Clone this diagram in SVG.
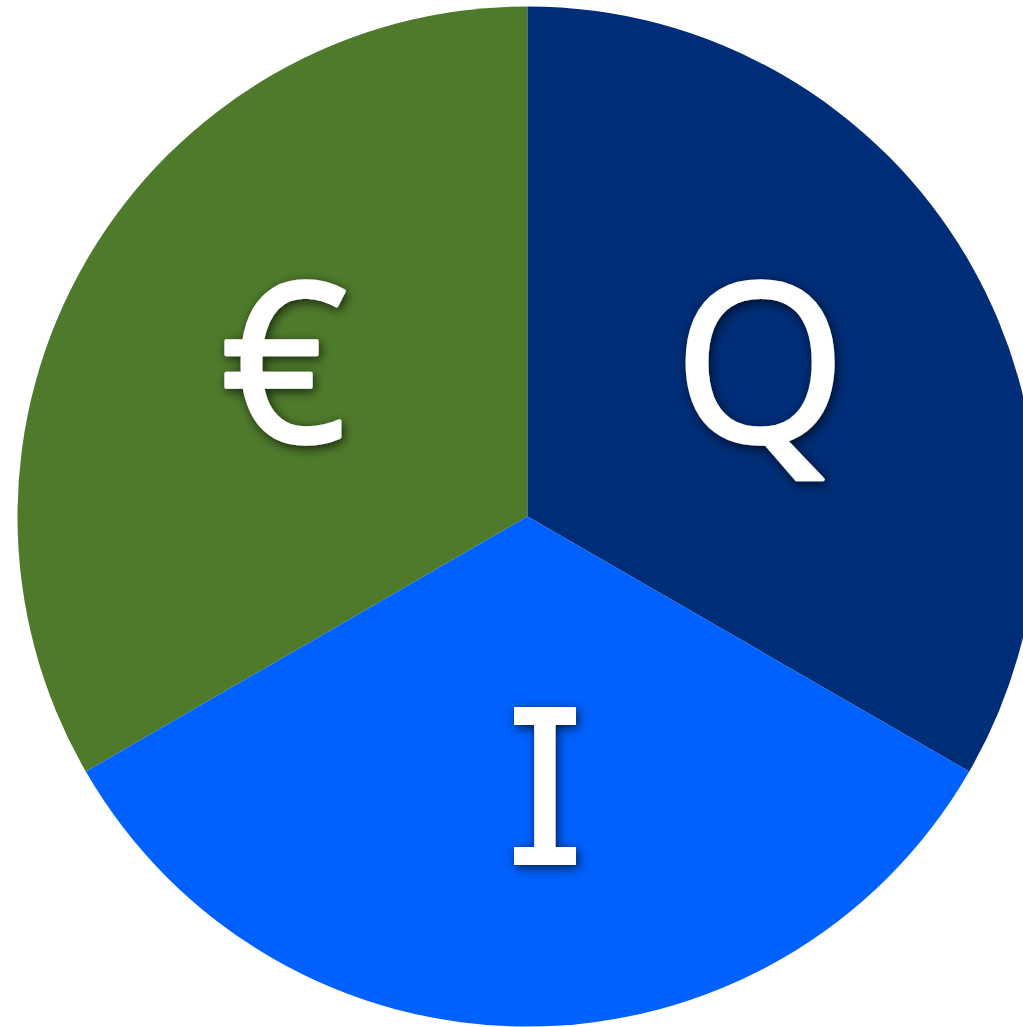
<svg xmlns="http://www.w3.org/2000/svg" width="1023" height="1027" viewBox="0 0 1023 1027">
<defs>
<filter id="sh" x="-30%" y="-30%" width="160%" height="160%">
<feDropShadow dx="2" dy="3" stdDeviation="5.5" flood-color="#000" flood-opacity="0.7"/>
</filter>
<clipPath id="iclip"><rect x="514" y="690" width="62" height="190"/></clipPath>
<style>
.lbl{fill:#fff;text-anchor:middle}
.sh{filter:url(#sh)}
.sans{font-family:"Open Sans","Noto Sans",sans-serif;stroke:#fff;stroke-width:3.5;stroke-linejoin:round}
.mono{font-family:"DejaVu Sans Mono",monospace}
</style>
</defs>
<rect width="1023" height="1027" fill="#fff"/>
<g id="seg-euro">
<path d="M527.5,516.5 L527.5,6.5 A510,510 0 0 0 85.8,771.5 Z" fill="#4f7a2b"/>
<text class="lbl sh sans" x="284" y="442" font-size="222">€</text>
</g>
<g id="seg-q">
<path d="M527.5,516.5 L527.5,6.5 A510,510 0 0 1 969.2,771.5 Z" fill="#002d77"/>
<text class="lbl sh sans" x="760" y="442" font-size="222">Q</text>
</g>
<g id="seg-i">
<path d="M527.5,516.5 L969.2,771.5 A510,510 0 0 1 85.8,771.5 Z" fill="#0061fe"/>
<g class="sh"><text class="lbl mono" x="545" y="865" font-size="215" clip-path="url(#iclip)">I</text></g>
</g>
</svg>
